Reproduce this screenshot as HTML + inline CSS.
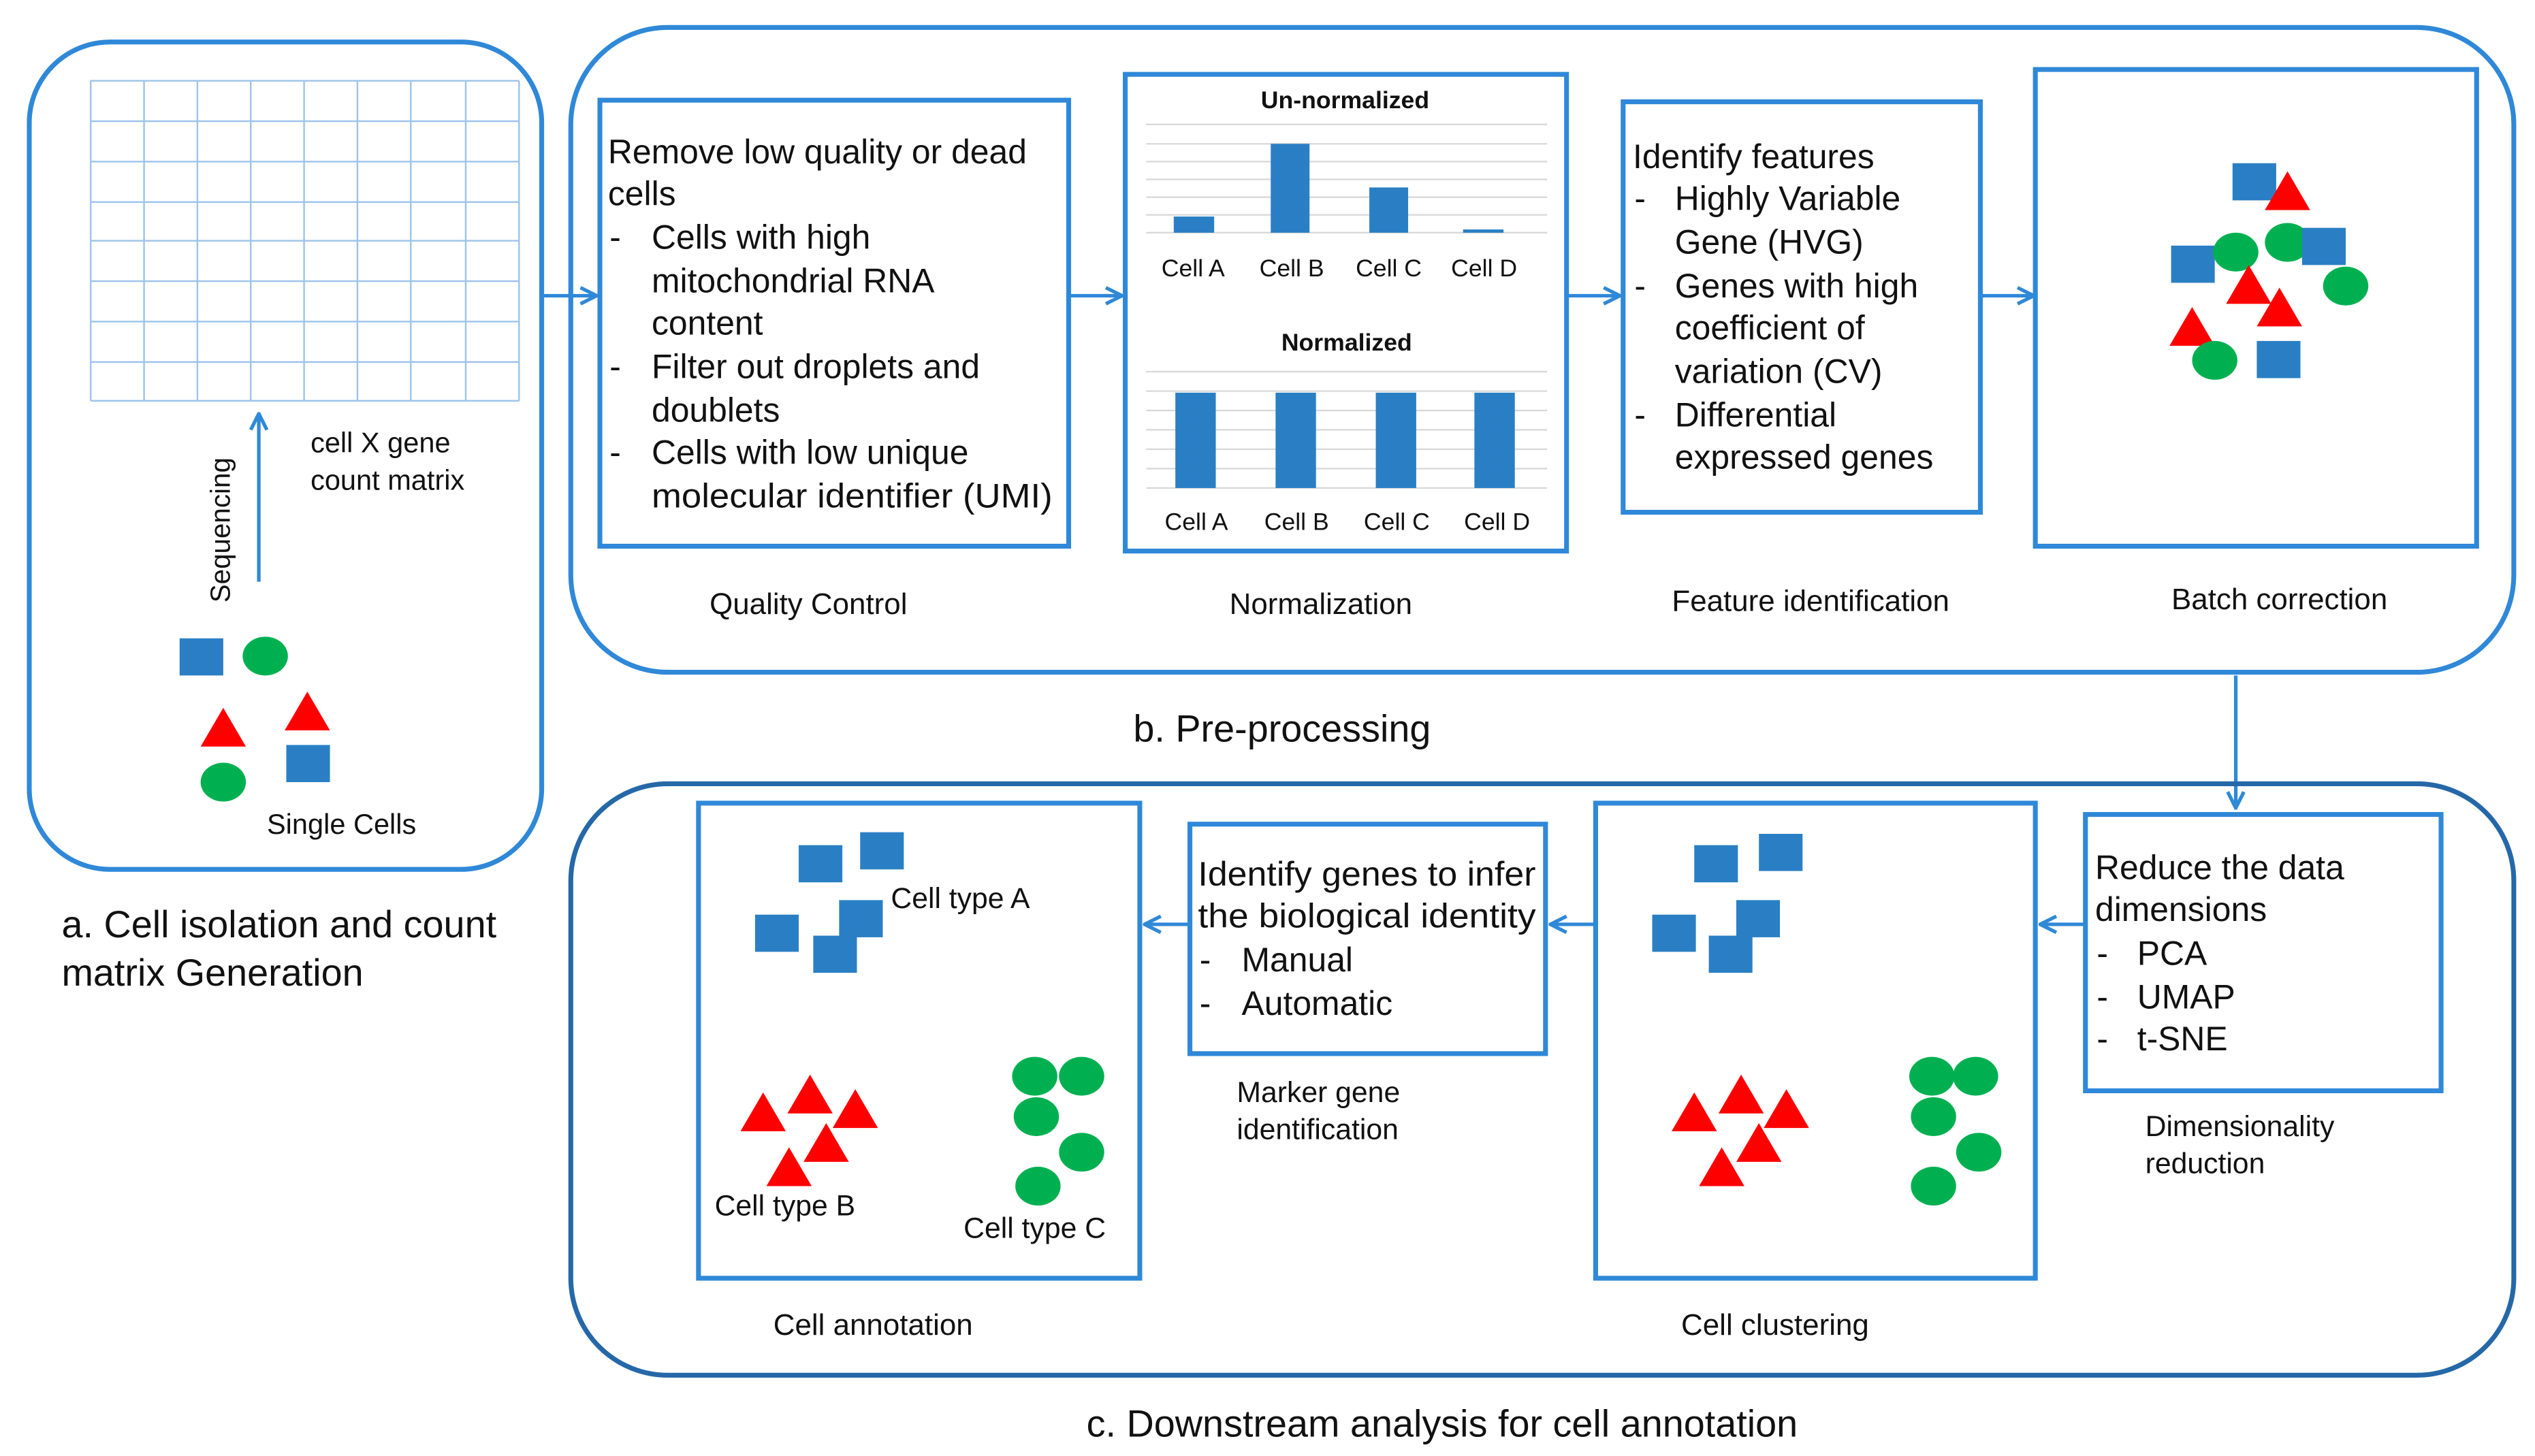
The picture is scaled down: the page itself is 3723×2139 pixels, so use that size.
<!DOCTYPE html>
<html><head><meta charset="utf-8"><style>
html,body{margin:0;padding:0;background:#fff;}
svg{display:block;}
text{font-family:"Liberation Sans",sans-serif;fill:#111;}
</style></head><body>
<svg width="3723" height="2139" viewBox="0 0 1568 901" xmlns="http://www.w3.org/2000/svg">
<defs>
<marker id="ah" viewBox="0 0 12 12" refX="11" refY="6" markerWidth="12" markerHeight="12" markerUnits="userSpaceOnUse" orient="auto">
<path d="M1,1 L11,6 L1,11" fill="none" stroke="#2f88d8" stroke-width="2.2"/>
</marker>
<g id="sq"><rect x="0" y="0" width="27" height="23" fill="#2a7fc4"/></g>
<g id="tri"><polygon points="14,0 28,24 0,24" fill="#ff0000"/></g>
<g id="el"><ellipse cx="0" cy="0" rx="14" ry="12" fill="#00b050"/></g>
</defs>

<!-- a -->
<rect x="18" y="26" width="317" height="512" rx="50" fill="none" stroke="#2f88d8" stroke-width="3"/>
<g stroke="#9cc3ea" stroke-width="1">
<line x1="56" y1="50" x2="56" y2="248"/><line x1="89" y1="50" x2="89" y2="248"/><line x1="122" y1="50" x2="122" y2="248"/><line x1="155" y1="50" x2="155" y2="248"/><line x1="188" y1="50" x2="188" y2="248"/><line x1="221" y1="50" x2="221" y2="248"/><line x1="254" y1="50" x2="254" y2="248"/><line x1="288" y1="50" x2="288" y2="248"/><line x1="321" y1="50" x2="321" y2="248"/>
<line x1="56" y1="50" x2="321" y2="50"/><line x1="56" y1="75" x2="321" y2="75"/><line x1="56" y1="100" x2="321" y2="100"/><line x1="56" y1="125" x2="321" y2="125"/><line x1="56" y1="149" x2="321" y2="149"/><line x1="56" y1="174" x2="321" y2="174"/><line x1="56" y1="199" x2="321" y2="199"/><line x1="56" y1="224" x2="321" y2="224"/><line x1="56" y1="248" x2="321" y2="248"/>
</g>
<line x1="160" y1="360" x2="160" y2="256" stroke="#2f88d8" stroke-width="2.2" marker-end="url(#ah)"/>
<text transform="translate(142,328) rotate(-90)" font-size="17" text-anchor="middle">Sequencing</text>
<text x="192" y="280" font-size="17.5">cell X gene</text>
<text x="192" y="303" font-size="17.5">count matrix</text>
<use href="#sq" x="111" y="395"/>
<use href="#el" x="164" y="406"/>
<use href="#tri" x="124" y="438"/>
<use href="#tri" x="176" y="428"/>
<use href="#sq" x="177" y="461"/>
<use href="#el" x="138" y="484"/>
<text x="165" y="516" font-size="17.5">Single Cells</text>
<text x="38" y="580" font-size="23.5">a. Cell isolation and count</text>
<text x="38" y="610" font-size="23.5">matrix Generation</text>

<!-- b -->
<rect x="353" y="17" width="1202" height="399" rx="60" fill="none" stroke="#2f88d8" stroke-width="3"/>
<rect x="371" y="62" width="290" height="276" fill="none" stroke="#2f88d8" stroke-width="3"/>
<g font-size="21">
<text x="376" y="101">Remove low quality or dead</text>
<text x="376" y="127">cells</text>
<text x="377" y="154">-</text><text x="403" y="154">Cells with high</text>
<text x="403" y="181">mitochondrial RNA</text>
<text x="403" y="207">content</text>
<text x="377" y="234">-</text><text x="403" y="234">Filter out droplets and</text>
<text x="403" y="261">doublets</text>
<text x="377" y="287">-</text><text x="403" y="287">Cells with low unique</text>
<text x="403" y="314" textLength="248" lengthAdjust="spacingAndGlyphs">molecular identifier (UMI)</text>
</g>
<line x1="335" y1="183" x2="369" y2="183" stroke="#2f88d8" stroke-width="2.2" marker-end="url(#ah)"/>
<line x1="661" y1="183" x2="694" y2="183" stroke="#2f88d8" stroke-width="2.2" marker-end="url(#ah)"/>
<line x1="969" y1="183" x2="1002" y2="183" stroke="#2f88d8" stroke-width="2.2" marker-end="url(#ah)"/>
<line x1="1225" y1="183" x2="1258" y2="183" stroke="#2f88d8" stroke-width="2.2" marker-end="url(#ah)"/>

<rect x="696" y="46" width="273" height="295" fill="none" stroke="#2f88d8" stroke-width="3"/>
<text x="832" y="67" font-size="15" font-weight="bold" text-anchor="middle">Un-normalized</text>
<g stroke="#d9d9d9" stroke-width="1">
<line x1="709" y1="77" x2="957" y2="77"/><line x1="709" y1="89" x2="957" y2="89"/><line x1="709" y1="100" x2="957" y2="100"/><line x1="709" y1="111" x2="957" y2="111"/><line x1="709" y1="122" x2="957" y2="122"/><line x1="709" y1="133" x2="957" y2="133"/><line x1="709" y1="144" x2="957" y2="144"/>
<line x1="709" y1="230" x2="957" y2="230"/><line x1="709" y1="242" x2="957" y2="242"/><line x1="709" y1="254" x2="957" y2="254"/><line x1="709" y1="266" x2="957" y2="266"/><line x1="709" y1="278" x2="957" y2="278"/><line x1="709" y1="290" x2="957" y2="290"/><line x1="709" y1="302" x2="957" y2="302"/>
</g>
<g fill="#2a7fc4">
<rect x="726" y="134" width="25" height="10"/><rect x="786" y="89" width="24" height="55"/><rect x="847" y="116" width="24" height="28"/><rect x="905" y="142" width="25" height="2"/>
<rect x="727" y="243" width="25" height="59"/><rect x="789" y="243" width="25" height="59"/><rect x="851" y="243" width="25" height="59"/><rect x="912" y="243" width="25" height="59"/>
</g>
<g font-size="15" text-anchor="middle">
<text x="738" y="171">Cell A</text><text x="799" y="171">Cell B</text><text x="859" y="171">Cell C</text><text x="918" y="171">Cell D</text>
<text x="740" y="328">Cell A</text><text x="802" y="328">Cell B</text><text x="864" y="328">Cell C</text><text x="926" y="328">Cell D</text>
</g>
<text x="833" y="217" font-size="15" font-weight="bold" text-anchor="middle">Normalized</text>

<rect x="1004" y="63" width="221" height="254" fill="none" stroke="#2f88d8" stroke-width="3"/>
<g font-size="21">
<text x="1010" y="104">Identify features</text>
<text x="1011" y="130">-</text><text x="1036" y="130">Highly Variable</text>
<text x="1036" y="157">Gene (HVG)</text>
<text x="1011" y="184">-</text><text x="1036" y="184">Genes with high</text>
<text x="1036" y="210">coefficient of</text>
<text x="1036" y="237">variation (CV)</text>
<text x="1011" y="264">-</text><text x="1036" y="264">Differential</text>
<text x="1036" y="290">expressed genes</text>
</g>
<rect x="1259" y="43" width="273" height="295" fill="none" stroke="#2f88d8" stroke-width="3"/>
<use href="#sq" x="1381" y="101"/>
<use href="#tri" x="1401" y="106"/>
<use href="#sq" x="1343" y="152"/>
<use href="#el" x="1383" y="156"/>
<use href="#el" x="1415" y="150"/>
<use href="#sq" x="1424" y="141"/>
<use href="#tri" x="1377" y="164"/>
<use href="#tri" x="1396" y="178"/>
<use href="#el" x="1451" y="177"/>
<use href="#tri" x="1342" y="190"/>
<use href="#el" x="1370" y="223"/>
<use href="#sq" x="1396" y="211"/>

<g font-size="18.5" text-anchor="middle">
<text x="500" y="380">Quality Control</text>
<text x="817" y="380">Normalization</text>
<text x="1120" y="378">Feature identification</text>
<text x="1410" y="377">Batch correction</text>
</g>
<text x="793" y="459" font-size="23.5" text-anchor="middle">b. Pre-processing</text>
<line x1="1383" y1="418" x2="1383" y2="500" stroke="#2f88d8" stroke-width="2.2" marker-end="url(#ah)"/>

<!-- c -->
<rect x="353" y="485" width="1202" height="366" rx="60" fill="none" stroke="#2568a8" stroke-width="3"/>
<rect x="1290" y="504" width="220" height="171" fill="none" stroke="#2f88d8" stroke-width="3"/>
<g font-size="21">
<text x="1296" y="544">Reduce the data</text>
<text x="1296" y="570">dimensions</text>
<text x="1297" y="597">-</text><text x="1322" y="597">PCA</text>
<text x="1297" y="624">-</text><text x="1322" y="624">UMAP</text>
<text x="1297" y="650">-</text><text x="1322" y="650">t-SNE</text>
</g>
<text x="1327" y="703" font-size="18">Dimensionality</text>
<text x="1327" y="726" font-size="18">reduction</text>
<line x1="1290" y1="572" x2="1262" y2="572" stroke="#2f88d8" stroke-width="2.2" marker-end="url(#ah)"/>

<rect x="987" y="497" width="272" height="294" fill="none" stroke="#2f88d8" stroke-width="3"/>
<use href="#sq" x="1048" y="523"/><use href="#sq" x="1088" y="516"/><use href="#sq" x="1022" y="566"/><use href="#sq" x="1074" y="557"/><use href="#sq" x="1057" y="579"/>
<use href="#tri" x="1034" y="676"/><use href="#tri" x="1063" y="665"/><use href="#tri" x="1091" y="674"/><use href="#tri" x="1074" y="695"/><use href="#tri" x="1051" y="710"/>
<use href="#el" x="1195" y="666"/><use href="#el" x="1222" y="666"/><use href="#el" x="1196" y="691"/><use href="#el" x="1224" y="713"/><use href="#el" x="1196" y="734"/>
<line x1="987" y1="572" x2="959" y2="572" stroke="#2f88d8" stroke-width="2.2" marker-end="url(#ah)"/>

<rect x="736" y="510" width="220" height="142" fill="none" stroke="#2f88d8" stroke-width="3"/>
<g font-size="21">
<text x="741" y="548" textLength="209" lengthAdjust="spacingAndGlyphs">Identify genes to infer</text>
<text x="741" y="574" textLength="209" lengthAdjust="spacingAndGlyphs">the biological identity</text>
<text x="742" y="601">-</text><text x="768" y="601">Manual</text>
<text x="742" y="628">-</text><text x="768" y="628">Automatic</text>
</g>
<text x="765" y="682" font-size="18">Marker gene</text>
<text x="765" y="705" font-size="18">identification</text>
<line x1="736" y1="572" x2="708" y2="572" stroke="#2f88d8" stroke-width="2.2" marker-end="url(#ah)"/>

<rect x="432" y="497" width="273" height="294" fill="none" stroke="#2f88d8" stroke-width="3"/>
<use href="#sq" x="494" y="523"/><use href="#sq" x="532" y="515"/><use href="#sq" x="467" y="566"/><use href="#sq" x="519" y="557"/><use href="#sq" x="503" y="579"/>
<text x="551" y="562" font-size="18">Cell type A</text>
<use href="#tri" x="458" y="676"/><use href="#tri" x="487" y="665"/><use href="#tri" x="515" y="674"/><use href="#tri" x="497" y="695"/><use href="#tri" x="474" y="710"/>
<text x="442" y="752" font-size="18">Cell type B</text>
<use href="#el" x="640" y="666"/><use href="#el" x="669" y="666"/><use href="#el" x="641" y="691"/><use href="#el" x="669" y="713"/><use href="#el" x="642" y="734"/>
<text x="596" y="766" font-size="18">Cell type C</text>

<text x="540" y="826" font-size="18.5" text-anchor="middle">Cell annotation</text>
<text x="1098" y="826" font-size="18.5" text-anchor="middle">Cell clustering</text>
<text x="892" y="889" font-size="23.5" text-anchor="middle">c. Downstream analysis for cell annotation</text>
</svg>
</body></html>
